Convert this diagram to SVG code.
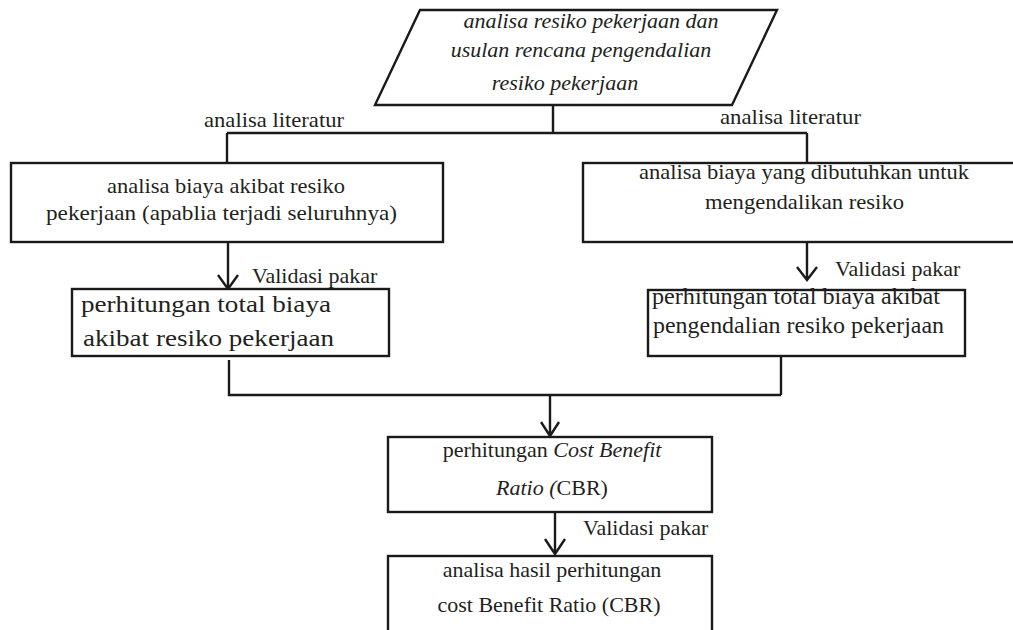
<svg xmlns="http://www.w3.org/2000/svg" width="1013" height="630" viewBox="0 0 1013 630">
<style>
.s{fill:#fff;stroke:#1a1a1a;stroke-width:2.4}
.c{fill:none;stroke:#1a1a1a;stroke-width:2.4}
text{font-family:"Liberation Serif","Times New Roman",serif;font-size:22px;fill:#231f20}
.m{text-anchor:middle}
.i{font-style:italic}
.b{font-size:23px}
</style>
<rect width="1013" height="630" fill="#fff"/>
<g id="connectors">
<path class="c" d="M553,105 V133 M227,133 H807 M227,133 V163 M807,133 V163"/>
<path class="c" d="M228,243 V289 M218,275 L228,289 L238,275"/>
<path class="c" d="M807,243 V279 M797,267 L807,280 L817,267"/>
<path class="c" d="M229,360 V395 H781 M781,356 V395 M550,395 V436 M541,422 L550,436 L559,422"/>
<path class="c" d="M555,512 V554 M545,539 L555,554 L565,539"/>
</g>
<g id="labels">
<text x="204" y="127" textLength="140" lengthAdjust="spacingAndGlyphs">analisa literatur</text>
<text x="720" y="124" textLength="141" lengthAdjust="spacingAndGlyphs">analisa literatur</text>
<text x="252" y="283">Validasi pakar</text>
<text x="835" y="276">Validasi pakar</text>
<text x="583" y="535">Validasi pakar</text>
</g>
<g id="start">
<polygon class="s" points="420,10 777,10 732,105 375,105"/>
<text class="m i" x="591" y="28">analisa resiko pekerjaan dan</text>
<text class="m i" x="581" y="57">usulan rencana pengendalian</text>
<text class="m i" x="565" y="90">resiko pekerjaan</text>
</g>
<g id="biaya-akibat">
<rect class="s" x="11" y="163" width="432" height="79"/>
<text x="107" y="193" textLength="238" lengthAdjust="spacingAndGlyphs">analisa biaya akibat resiko</text>
<text x="46" y="220" textLength="351" lengthAdjust="spacingAndGlyphs">pekerjaan (apablia terjadi seluruhnya)</text>
</g>
<g id="biaya-pengendalian">
<rect class="s" x="583" y="163" width="440" height="79"/>
<text x="639" y="179" textLength="330" lengthAdjust="spacingAndGlyphs">analisa biaya yang dibutuhkan untuk</text>
<text x="705" y="209" textLength="199" lengthAdjust="spacingAndGlyphs">mengendalikan resiko</text>
</g>
<g id="total-akibat">
<rect class="s" x="72" y="289" width="317" height="67"/>
<text class="b" x="81" y="312" textLength="250" lengthAdjust="spacingAndGlyphs">perhitungan total biaya</text>
<text class="b" x="83" y="346" textLength="251" lengthAdjust="spacingAndGlyphs">akibat resiko pekerjaan</text>
</g>
<g id="total-pengendalian">
<rect class="s" x="648" y="290" width="317" height="66"/>
<text class="b" x="652" y="304" textLength="288" lengthAdjust="spacingAndGlyphs">perhitungan total biaya akibat</text>
<text class="b" x="653" y="333" textLength="291" lengthAdjust="spacingAndGlyphs">pengendalian resiko pekerjaan</text>
</g>
<g id="cbr">
<rect class="s" x="388" y="437" width="324" height="75"/>
<text class="m" x="552" y="457">perhitungan <tspan class="i">Cost Benefit</tspan></text>
<text class="m" x="552" y="495"><tspan class="i">Ratio (</tspan>CBR)</text>
</g>
<g id="hasil">
<rect class="s" x="388" y="556" width="324" height="90"/>
<text class="m" x="552" y="577">analisa hasil perhitungan</text>
<text class="m" x="549" y="612">cost Benefit Ratio (CBR)</text>
</g>
</svg>
